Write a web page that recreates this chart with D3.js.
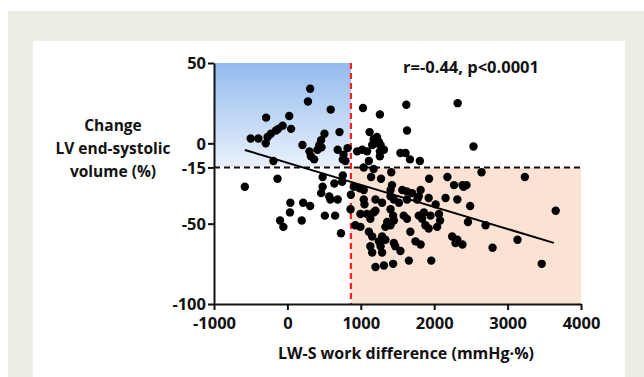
<!DOCTYPE html>
<html><head><meta charset="utf-8">
<script src="https://cdn.jsdelivr.net/npm/d3@7"></script>
<style>html,body{margin:0;padding:0;background:#fff;}svg{display:block;}</style>
</head><body>
<script>
// ---- data ----
const xValues = [310,280,590,-290,25,-500,-395,-270,-225,-155,-125,-65,-295,50,205,505,460,435,465,410,300,320,365,710,685,820,765,755,-190,-135,-580,480,480,755,640,745,
40,35,215,310,-100,-55,195,510,650,460,570,585,685,730,865,860,
1030,1260,1620,1630,2320,1120,1175,1220,1245,1270,1200,1155,1085,1020,950,1260,1315,1260,790,1540,1610,1670,1805,1040,1110,1175,1415,1930,2180,2270,1140,1275,905,985,1040,1425,1405,1565,1630,1700,1815,1790,
1040,1050,1200,1200,1290,1405,1450,1520,1630,1770,1925,2020,2155,2315,995,1085,1175,1405,1440,1450,1360,1335,1405,925,995,1130,1585,1630,1790,1835,1860,1950,2065,2080,1880,1925,2040,1110,1155,1290,1335,1245,1270,1450,1470,1540,1675,1745,1815,1130,1155,1290,1655,1960,1200,1315,1440,2245,2315,2290,
2535,2645,3235,2385,2440,2400,2490,2460,2700,3135,3655,2385,2795,3465];
const yValues = [34,26,21,16,17,3,3,4,6,8,9,11,0,9,-1,6,2,-1,-2.5,-4,-5,-8,-10,7,-4,-3,-7,-10,-11,-22,-27,-21,-27,-20,-25,-24,
-37,-43,-37,-39,-48,-52,-48,-45,-45,-31,-33,-35,-35,-56,-32,-41,
22,18,24,8,25,7,2.5,4,1,-1,0,-1,-5,-4,-5,-5,-4,-8,-11,-6,-6,-10,-11,-15,-11,-16,-18,-22,-21,-26,-21,-22,-27,-28,-29,-26,-29,-29,-30,-31,-29,-33,
-35,-38,-35,-42,-37,-33,-35,-37,-35,-35,-34,-38,-34,-35,-44,-44,-43,-41,-45,-48,-49,-52,-51,-51,-52,-47,-45,-47,-45,-47,-43,-45,-44,-48,-51,-53,-52,-55,-58,-58,-60,-61,-64,-62,-64,-67,-55,-61,-63,-64,-68,-68,-73,-73,-77,-76,-75,-58,-60,-62,
-2,-18,-21,-26,-26,-27,-39,-49,-51,-60,-42,-63,-65,-75];
const xTicks = [-1000,0,1000,2000,3000,4000];
const yTicks = [50,0,-15,-50,-100];
const xDomain = [-1000,4000];
const yDomain = [-100,50];
const thresholdX = [865];
const thresholdY = [-15];
const regRange = [-580,3630];
const regSlope = [-0.01374];
const regIntercept = [-12.1];
const yTitleLines = ["Change","LV end-systolic","volume (%)"];
const xTitle = "LW-S work difference (mmHg·%)";
const statText = "r=-0.44, p<0.0001";

// ---- drawing ----
const W = 644, H = 377;
const svg = d3.select("body").append("svg").attr("width", W).attr("height", H);
const FONT = "'Open Sans', 'Liberation Sans', sans-serif";

svg.append("rect").attr("x",8).attr("y",11).attr("width",W-8).attr("height",H-11).attr("fill","#efeee4");
svg.append("rect").attr("x",33).attr("y",41).attr("width",592).attr("height",H-41).attr("fill","#ffffff");

const x = d3.scaleLinear().domain(xDomain).range([214,581]);
const y = d3.scaleLinear().domain(yDomain).range([304,63]);

const defs = svg.append("defs");
const grad = defs.append("linearGradient").attr("id","blueGrad").attr("x1",0).attr("y1",0).attr("x2",0).attr("y2",1);
grad.append("stop").attr("offset","0%").attr("stop-color","#93bbee");
grad.append("stop").attr("offset","100%").attr("stop-color","#eaf1fb");

// shaded quadrants
svg.append("rect").attr("x",x(xDomain[0])).attr("y",y(yDomain[1]))
  .attr("width",x(thresholdX[0])-x(xDomain[0])).attr("height",y(thresholdY[0])-y(yDomain[1]))
  .attr("fill","url(#blueGrad)");
svg.append("rect").attr("x",x(thresholdX[0])).attr("y",y(thresholdY[0]))
  .attr("width",x(xDomain[1])-x(thresholdX[0])).attr("height",y(yDomain[0])-y(thresholdY[0]))
  .attr("fill","#fae3d4");

// threshold lines
svg.append("line").attr("x1",x(xDomain[0])).attr("x2",x(xDomain[1]))
  .attr("y1",y(thresholdY[0])).attr("y2",y(thresholdY[0]))
  .attr("stroke","#111").attr("stroke-width",2).attr("stroke-dasharray","6,4");
svg.append("line").attr("x1",x(thresholdX[0])).attr("x2",x(thresholdX[0]))
  .attr("y1",y(yDomain[1])).attr("y2",y(yDomain[0]))
  .attr("stroke","#ff1f1f").attr("stroke-width",2.2).attr("stroke-dasharray","6,4");

// points
const pts = xValues.map((v,i)=>({x:v,y:yValues[i]}));
svg.append("g").selectAll("circle").data(pts).join("circle")
  .attr("cx",d=>x(d.x)).attr("cy",d=>y(d.y)).attr("r",4.2).attr("fill","#000");

// regression line
const regLine = d3.line().x(d=>x(d)).y(d=>y(regIntercept[0]+regSlope[0]*d));
svg.append("path").attr("d",regLine(regRange)).attr("stroke","#000").attr("stroke-width",2).attr("fill","none");

// axes
const fmt = d => String(d);
const xAxis = svg.append("g").attr("transform",`translate(0,${y(yDomain[0])})`)
  .call(d3.axisBottom(x).tickValues(xTicks).tickSize(6).tickSizeOuter(0).tickFormat(fmt));
const yAxis = svg.append("g").attr("transform",`translate(${x(xDomain[0])},0)`)
  .call(d3.axisLeft(y).tickValues(yTicks).tickSize(6).tickSizeOuter(0).tickFormat(fmt));
[xAxis,yAxis].forEach(g=>{
  g.select(".domain").attr("stroke","#111").attr("stroke-width",2);
  g.selectAll(".tick line").attr("stroke","#111").attr("stroke-width",2);
  g.selectAll(".tick text").attr("fill","#111").style("font-family",FONT).style("font-weight","700").style("font-size","16.5px");
});
xAxis.selectAll(".tick text").attr("dy","0.95em");
yAxis.selectAll(".tick text").attr("x",-8).attr("dy","0.36em");

// titles
svg.append("text").attr("x",406).attr("y",359).attr("text-anchor","middle")
  .style("font-family",FONT).style("font-weight","700").style("font-size","16px").attr("fill","#111").text(xTitle);
svg.append("text").attr("x",113).attr("y",131).attr("text-anchor","middle")
  .style("font-family",FONT).style("font-weight","700").style("font-size","15.5px").attr("fill","#111")
  .selectAll("tspan").data(yTitleLines).join("tspan").attr("x",113).attr("dy",(d,i)=>i===0?0:23).text(d=>d);
svg.append("text").attr("x",471).attr("y",73).attr("text-anchor","middle")
  .style("font-family",FONT).style("font-weight","700").style("font-size","16.5px").attr("fill","#111").text(statText);
</script>
</body></html>
